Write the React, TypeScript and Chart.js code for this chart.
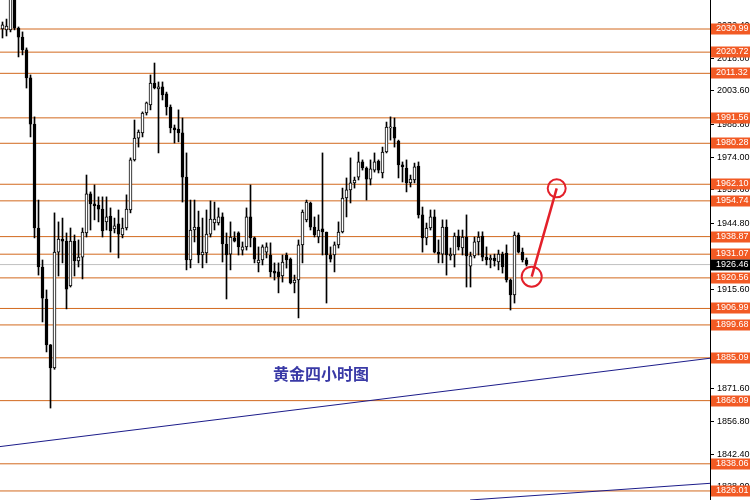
import React, { useEffect, useRef } from 'react';
import { Chart, registerables } from 'chart.js';

Chart.register(...registerables);

// ---- Candle data (4-hour gold) ----
const OPEN = [
  2031.0, 2030.6, 2030.6, 2049.0, 2031.4, 2027.4, 2021.7, 2009.3, 1988.8, 1942.7,
  1925.4, 1911.2, 1890.8, 1880.6, 1932.0, 1937.8, 1936.9, 1917.0, 1936.9, 1928.1,
  1929.8, 1940.5, 1957.8, 1953.4, 1952.9, 1951.1, 1945.4, 1948.0, 1942.3, 1944.5,
  1939.6, 1942.7, 1950.7, 1972.9, 1982.6, 1984.9, 1993.7, 1997.3, 2007.0, 2004.4,
  2005.3, 2002.2, 1996.4, 1987.1, 1986.6, 1984.9, 1965.3, 1928.5, 1941.8, 1943.1,
  1930.7, 1931.6, 1940.0, 1944.9, 1944.9, 1947.6, 1935.6, 1931.1, 1938.3, 1940.5,
  1932.9, 1934.3, 1947.6, 1938.3, 1927.2, 1928.5, 1932.0, 1930.7, 1923.6, 1923.2,
  1921.4, 1930.7, 1928.9, 1918.3, 1919.6, 1935.2, 1946.3, 1953.8, 1943.1, 1938.7,
  1942.3, 1940.9, 1930.7, 1930.7, 1935.2, 1940.9, 1956.0, 1959.6, 1962.7, 1965.3,
  1972.0, 1969.3, 1964.4, 1968.4, 1972.4, 1967.1, 1976.4, 1987.1, 1987.5, 1981.3,
  1970.7, 1969.3, 1962.7, 1964.0, 1970.2, 1948.5, 1938.3, 1942.7, 1947.6, 1932.0,
  1931.1, 1943.1, 1930.3, 1930.7, 1939.1, 1933.8, 1938.7, 1925.8, 1930.3, 1936.5,
  1939.1, 1929.8, 1928.5, 1929.4, 1927.6, 1931.1, 1931.6, 1919.6, 1913.0, 1939.6,
  1932.0, 1928.5,
];
const HIGH = [
  2034.1, 2035.4, 2051.0, 2052.0, 2031.9, 2029.7, 2022.6, 2010.6, 1992.0, 1955.1,
  1928.5, 1915.2, 1891.0, 1949.4, 1945.4, 1947.1, 1940.5, 1942.7, 1939.6, 1937.4,
  1942.7, 1966.2, 1958.7, 1961.8, 1956.5, 1956.5, 1956.5, 1951.6, 1947.1, 1950.7,
  1947.1, 1957.4, 1973.8, 1990.6, 1986.2, 1994.2, 1998.6, 2010.6, 2015.9, 2007.5,
  2007.5, 2003.0, 1997.3, 1988.4, 1995.1, 1991.5, 1976.0, 1955.1, 1955.1, 1950.2,
  1947.1, 1950.7, 1954.7, 1954.2, 1951.6, 1949.4, 1940.5, 1945.4, 1941.0, 1941.0,
  1936.5, 1951.6, 1961.8, 1938.7, 1934.3, 1935.2, 1936.1, 1936.1, 1927.2, 1927.2,
  1930.7, 1931.6, 1929.4, 1921.8, 1937.4, 1950.7, 1955.1, 1954.2, 1947.6, 1948.5,
  1976.0, 1940.9, 1934.3, 1936.5, 1945.4, 1960.4, 1964.9, 1973.8, 1965.3, 1976.4,
  1972.9, 1969.8, 1972.9, 1976.0, 1972.9, 1978.6, 1989.7, 1992.0, 1991.5, 1981.7,
  1972.0, 1972.9, 1966.2, 1971.5, 1972.0, 1952.0, 1944.9, 1950.7, 1950.7, 1937.4,
  1946.3, 1946.3, 1933.8, 1940.5, 1941.8, 1941.8, 1948.5, 1932.0, 1938.7, 1941.0,
  1941.0, 1934.3, 1930.7, 1931.1, 1932.9, 1932.0, 1935.2, 1920.1, 1941.0, 1940.5,
  1933.8, 1929.4,
];
const LOW = [
  2027.0, 2027.9, 2029.7, 2030.6, 2018.6, 2019.5, 2004.8, 1983.1, 1938.3, 1921.8,
  1901.0, 1887.7, 1862.8, 1880.0, 1921.4, 1927.2, 1906.8, 1916.5, 1921.4, 1925.4,
  1920.1, 1938.7, 1941.8, 1946.3, 1945.4, 1938.7, 1941.8, 1932.0, 1940.5, 1929.4,
  1938.3, 1941.8, 1949.4, 1972.4, 1978.6, 1983.1, 1992.8, 1995.1, 2004.4, 1976.0,
  1999.5, 1992.8, 1984.9, 1980.4, 1980.9, 1954.2, 1924.1, 1925.0, 1936.5, 1927.2,
  1925.0, 1927.2, 1938.7, 1941.8, 1944.0, 1927.6, 1911.2, 1924.1, 1936.5, 1930.7,
  1930.7, 1932.9, 1934.3, 1927.2, 1923.2, 1926.3, 1929.4, 1921.0, 1919.6, 1913.9,
  1918.7, 1924.9, 1917.9, 1913.9, 1902.8, 1927.2, 1945.4, 1941.8, 1938.7, 1936.1,
  1930.7, 1909.4, 1927.6, 1923.2, 1933.8, 1940.5, 1947.6, 1953.8, 1960.4, 1964.0,
  1968.4, 1955.1, 1961.8, 1967.5, 1967.1, 1964.9, 1976.0, 1981.7, 1978.6, 1964.9,
  1963.1, 1958.7, 1960.9, 1962.7, 1947.1, 1932.0, 1935.2, 1941.8, 1931.6, 1927.2,
  1927.2, 1921.8, 1928.5, 1925.4, 1932.9, 1930.7, 1916.5, 1916.5, 1929.4, 1930.7,
  1928.1, 1926.3, 1925.0, 1925.8, 1924.1, 1922.7, 1918.7, 1906.3, 1909.4, 1931.6,
  1927.6, 1925.8,
];
const CLOSE = [
  2032.8, 2032.3, 2049.0, 2031.4, 2027.4, 2021.7, 2009.3, 1988.8, 1942.7, 1925.4,
  1911.6, 1890.8, 1880.6, 1932.0, 1937.8, 1936.9, 1915.6, 1936.9, 1928.1, 1929.8,
  1940.9, 1957.8, 1953.4, 1952.5, 1951.1, 1941.4, 1947.6, 1941.4, 1943.6, 1940.0,
  1942.7, 1951.1, 1972.9, 1982.6, 1985.3, 1993.7, 1998.2, 2007.0, 2004.8, 2005.3,
  2001.7, 1996.4, 1987.1, 1986.2, 1984.9, 1965.3, 1928.5, 1941.8, 1943.1, 1930.7,
  1932.0, 1940.0, 1946.7, 1946.7, 1947.6, 1935.6, 1930.7, 1938.7, 1936.9, 1934.3,
  1934.3, 1947.6, 1938.3, 1928.9, 1928.5, 1934.3, 1934.3, 1923.2, 1922.7, 1921.0,
  1927.6, 1928.5, 1918.3, 1919.6, 1935.2, 1949.8, 1954.2, 1943.1, 1939.6, 1941.8,
  1940.9, 1930.7, 1928.9, 1935.2, 1940.9, 1956.0, 1959.6, 1962.7, 1964.0, 1972.0,
  1969.3, 1964.4, 1968.9, 1972.0, 1968.4, 1976.4, 1987.5, 1987.5, 1982.6, 1970.7,
  1969.8, 1962.7, 1964.4, 1969.8, 1948.5, 1938.3, 1942.7, 1947.6, 1932.0, 1931.1,
  1943.1, 1930.7, 1931.1, 1939.1, 1934.3, 1938.7, 1930.3, 1930.3, 1936.5, 1938.7,
  1929.8, 1928.5, 1929.4, 1928.1, 1931.1, 1925.4, 1919.6, 1913.0, 1939.6, 1932.0,
  1928.5, 1926.5,
];

// Horizontal support / resistance levels
const LEVELS = [
  2030.99, 2020.72, 2011.32, 1991.56, 1980.28, 1962.10, 1954.74, 1938.87,
  1931.07, 1920.56, 1906.99, 1899.68, 1885.09, 1866.09, 1838.06, 1826.01,
];
const CURRENT_PRICE = 1926.46;

// Right axis tick labels
const TICKS = [
  2032.4, 2018.0, 2003.6, 1988.8, 1974.0, 1959.6, 1944.8,
  1915.6, 1871.6, 1856.8, 1842.4, 1828.0,
];

// Trend lines: [x, price] endpoints (x = bar index)
const TREND_1 = [[-0.625, 1845.7], [176.875, 1884.9]];
const TREND_2 = [[116.9, 1822.0], [176.875, 1829.4]];
// Forecast arrow (red)
const ARROW = [[132.3, 1921.1], [138.55, 1960.3]];

const TITLE = '黄金四小时图';
const TITLE_POS = [79.6, 1878.1];

const X_MIN = -0.625;
const X_MAX = 176.875;
const Y_MIN = 1822.0;
const Y_MAX = 2043.86;

const LEVEL_LINE = '#d2691e';
const LEVEL_TAG = '#f25a24';

const tagsPlugin = {
  id: 'tags',
  afterDraw(chart: any) {
    const { ctx, chartArea, scales } = chart;
    const ys = scales.y;
    const xs = scales.x;
    ctx.save();
    // title text
    ctx.font = 'bold 16px "Noto Sans CJK SC"';
    ctx.fillStyle = '#3a3aa6';
    ctx.textAlign = 'center';
    ctx.textBaseline = 'middle';
    ctx.fillText(TITLE, xs.getPixelForValue(TITLE_POS[0]), ys.getPixelForValue(TITLE_POS[1]));
    // price tags
    ctx.font = '9px "Liberation Sans"';
    ctx.textAlign = 'left';
    const left = chartArea.right + 1;
    const w = 750 - left;
    const draw = (v: number, bg: string) => {
      const y = ys.getPixelForValue(v);
      ctx.fillStyle = bg;
      ctx.fillRect(left, Math.round(y) - 5.5, w, 11);
      ctx.fillStyle = '#ffffff';
      ctx.fillText(v.toFixed(2), left + 5, Math.round(y));
    };
    LEVELS.forEach((v) => draw(v, LEVEL_TAG));
    draw(CURRENT_PRICE, '#000000');
    ctx.restore();
  },
};

export default function App() {
  const ref = useRef<HTMLCanvasElement>(null);

  useEffect(() => {
    document.body.style.margin = '0';
    const idx = OPEN.map((_, i) => i);
    const wicks = idx.map((i) => ({ x: i, y: [LOW[i], HIGH[i]] }));
    const bodies = idx.map((i) => ({ x: i, y: [OPEN[i], CLOSE[i]] }));
    const bodyColors = idx.map((i) => (CLOSE[i] >= OPEN[i] ? '#ffffff' : '#000000'));

    const levelSets = LEVELS.map((lv) => ({
      type: 'line' as const,
      data: [{ x: X_MIN, y: lv }, { x: X_MAX, y: lv }],
      borderColor: LEVEL_LINE,
      borderWidth: 1,
      pointRadius: 0,
      order: 5,
    }));

    const chart = new Chart(ref.current as HTMLCanvasElement, {
      type: 'bar',
      data: {
        datasets: [
          {
            type: 'line',
            data: ARROW.map(([x, y]) => ({ x, y })),
            borderColor: '#e3202a',
            borderWidth: 2.5,
            pointRadius: [10, 9],
            pointBorderWidth: 2,
            pointBorderColor: '#e3202a',
            pointBackgroundColor: 'rgba(0,0,0,0)',
            order: -1,
          } as any,
          {
            type: 'bar',
            data: bodies as any,
            backgroundColor: bodyColors,
            borderColor: '#000000',
            borderWidth: 1,
            borderSkipped: false,
            barThickness: 3,
            minBarLength: 1,
            grouped: false,
            order: 0,
          } as any,
          {
            type: 'bar',
            data: wicks as any,
            backgroundColor: '#000000',
            borderWidth: 0,
            barThickness: 1,
            grouped: false,
            order: 1,
          } as any,
          {
            type: 'line',
            data: TREND_1.map(([x, y]) => ({ x, y })),
            borderColor: '#1c1c8a',
            borderWidth: 1,
            pointRadius: 0,
            order: 2,
          } as any,
          {
            type: 'line',
            data: TREND_2.map(([x, y]) => ({ x, y })),
            borderColor: '#1c1c8a',
            borderWidth: 1,
            pointRadius: 0,
            order: 2,
          } as any,
          {
            type: 'line',
            data: [{ x: X_MIN, y: CURRENT_PRICE }, { x: X_MAX, y: CURRENT_PRICE }],
            borderColor: '#c0c0c0',
            borderWidth: 1,
            pointRadius: 0,
            order: 4,
          } as any,
          ...(levelSets as any[]),
        ],
      },
      options: {
        animation: false,
        responsive: false,
        devicePixelRatio: 1,
        layout: { padding: 0, autoPadding: false } as any,
        plugins: { legend: { display: false }, tooltip: { enabled: false } },
        events: [],
        scales: {
          x: {
            type: 'linear',
            min: X_MIN,
            max: X_MAX,
            offset: false,
            display: false,
          },
          y: {
            type: 'linear',
            position: 'right',
            min: Y_MIN,
            max: Y_MAX,
            beginAtZero: false,
            afterBuildTicks: (scale: any) => {
              scale.ticks = TICKS.map((v) => ({ value: v }));
            },
            afterFit: (scale: any) => {
              scale.width = 40;
              scale.paddingTop = 0;
              scale.paddingBottom = 0;
            },
            grid: {
              drawOnChartArea: false,
              drawTicks: true,
              tickLength: 4,
              color: '#000000',
              lineWidth: 1,
            },
            border: { display: true, color: '#000000', width: 1 },
            ticks: {
              color: '#000000',
              padding: 3,
              font: { family: 'Liberation Sans', size: 9 },
              callback: (v: any) => Number(v).toFixed(2),
            },
          },
        },
      } as any,
      plugins: [tagsPlugin],
    });
    return () => chart.destroy();
  }, []);

  return (
    <div style={{ position: 'absolute', left: 0, top: 0, width: 750, height: 500, background: '#ffffff' }}>
      <canvas ref={ref} width={750} height={500} style={{ display: 'block' }} />
    </div>
  );
}
